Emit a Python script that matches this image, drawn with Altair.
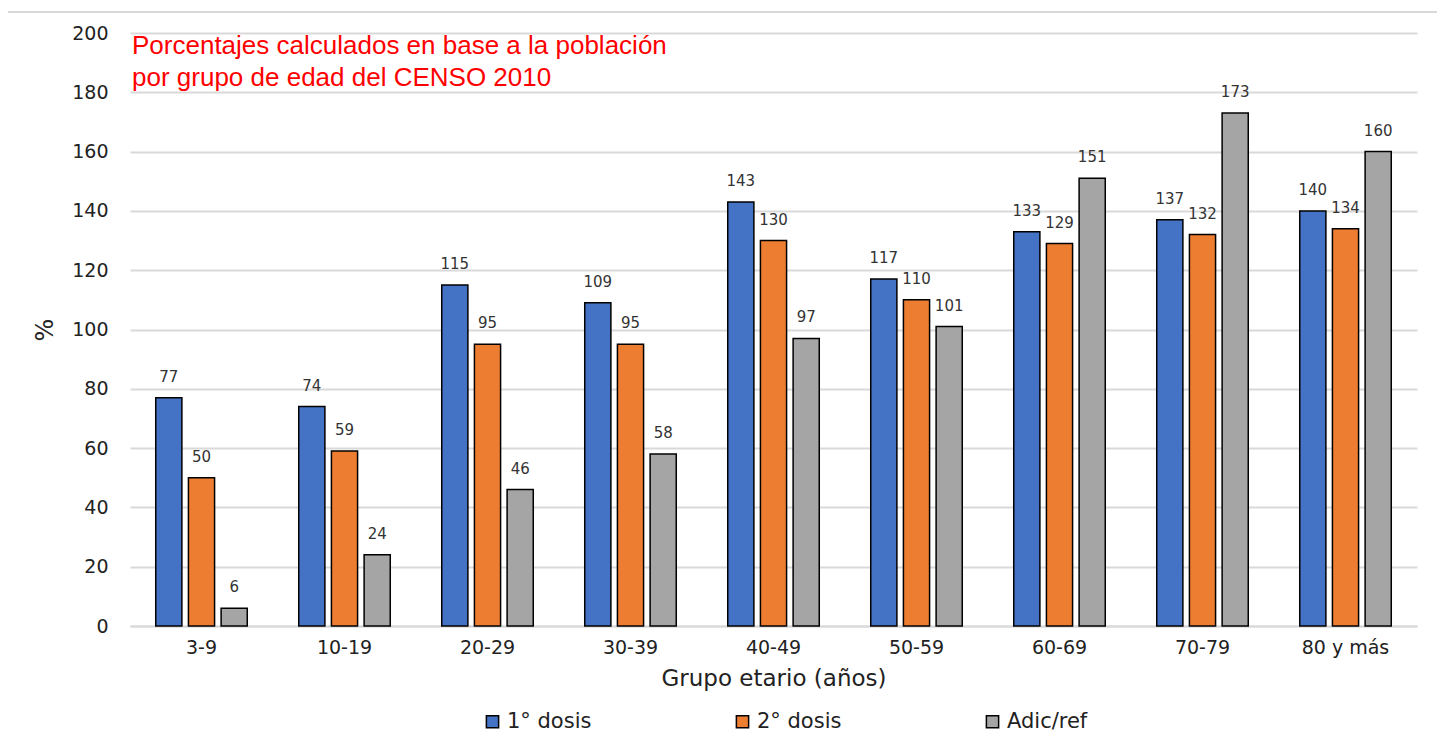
import altair as alt
import pandas as pd

grupos = ["3-9", "10-19", "20-29", "30-39", "40-49", "50-59", "60-69", "70-79", "80 y más"]
series = ["1° dosis", "2° dosis", "Adic/ref"]
dosis1 = [77, 74, 115, 109, 143, 117, 133, 137, 140]
dosis2 = [50, 59, 95, 95, 130, 110, 129, 132, 134]
adic = [6, 24, 46, 58, 97, 101, 151, 173, 160]
colores = ["#4472C4", "#ED7D31", "#A5A5A5"]
nota = ["Porcentajes calculados en base a la población", "por grupo de edad del CENSO 2010"]

rows = []
for s, vals in zip(series, [dosis1, dosis2, adic]):
    for g, v in zip(grupos, vals):
        rows.append({"grupo": g, "serie": s, "valor": v})
df = pd.DataFrame(rows)

FONT = "DejaVu Sans"

x = alt.X("grupo:N", sort=grupos, title="Grupo etario (años)",
          scale=alt.Scale(paddingInner=0.36, paddingOuter=0.18),
          axis=alt.Axis(labelAngle=0, labelFontSize=19, labelFont=FONT, labelColor="#222",
                        titleFontSize=23, titleFont=FONT, titleFontWeight="normal", titleColor="#222",
                        titlePadding=10, labelPadding=12, ticks=False, domainColor="#D9D9D9",
                        domainWidth=2))
xo = alt.XOffset("serie:N", sort=series, scale=alt.Scale(paddingInner=0.2))
y = alt.Y("valor:Q", title="%", scale=alt.Scale(domain=[0, 200]),
          axis=alt.Axis(values=list(range(0, 201, 20)), labelFontSize=19, labelFont=FONT,
                        labelColor="#222", titleFontSize=24, titleFont=FONT,
                        titleFontWeight="normal", titleColor="#222", titlePadding=14,
                        domain=False, ticks=False, labelPadding=22, gridColor="#D9D9D9",
                        gridWidth=2))

base = alt.Chart(df)
bars = base.mark_bar(stroke="black", strokeWidth=1.5).encode(
    x=x, xOffset=xo, y=y,
    color=alt.Color("serie:N", sort=series, scale=alt.Scale(domain=series, range=colores),
                    legend=alt.Legend(title=None, orient="none", direction="horizontal",
                                      legendX=352, legendY=678, columns=3, gridAlign="all",
                                      columnPadding=140, symbolType="square", symbolSize=150,
                                      symbolStrokeColor="black", symbolStrokeWidth=1.5,
                                      labelFontSize=21, labelFont=FONT, labelColor="#222",
                                      labelOffset=4)),
)
labels = base.mark_text(baseline="bottom", dy=-13, fontSize=15, font=FONT, color="#333").encode(
    x=x, xOffset=xo, y=y, text="valor:Q"
)
note_df = pd.DataFrame({"t": [nota]})
note = alt.Chart(note_df).mark_text(
    align="left", baseline="top", fontSize=26, font="Liberation Sans", color="#FF0000",
    lineHeight=32
).encode(x=alt.value(2), y=alt.value(0), text="t")

frame = alt.Chart(note_df).mark_rect(fill=None, stroke="#D9D9D9", strokeWidth=2).encode(
    x=alt.value(-124), x2=alt.value(1310), y=alt.value(-21), y2=alt.value(740)
)

chart = alt.layer(frame, bars, labels, note).properties(
    width=1287, height=593,
    autosize=alt.AutoSizeParams(type="none"),
    padding={"left": 122, "top": 25, "right": 20, "bottom": 112},
).configure_view(stroke=None)

chart.save("out.html", embed_options={"renderer": "svg", "actions": False})
